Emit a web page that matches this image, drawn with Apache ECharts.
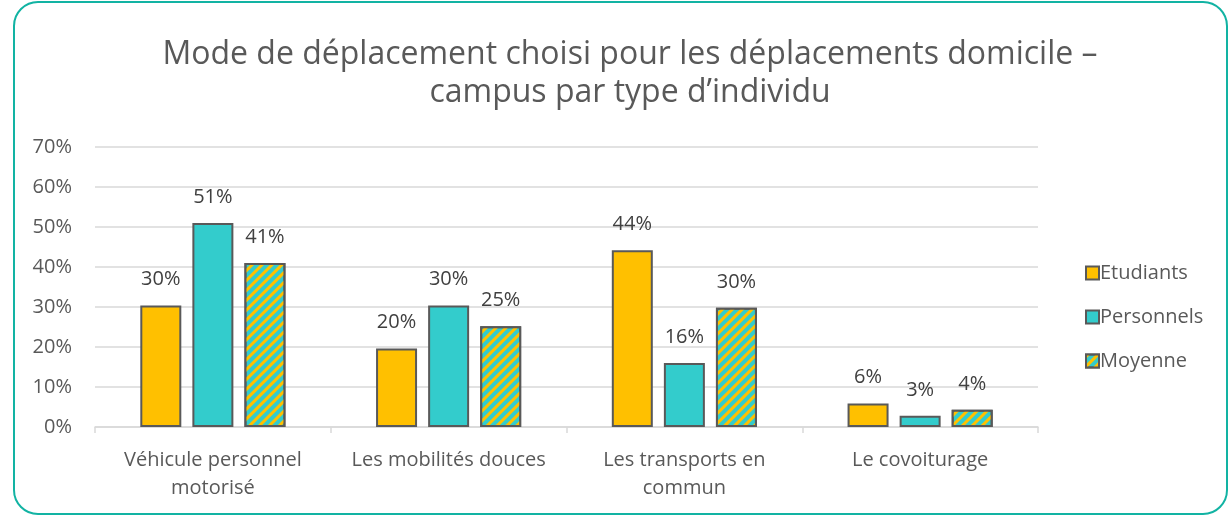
<!DOCTYPE html>
<html>
<head>
<meta charset="utf-8">
<script src="https://cdn.jsdelivr.net/npm/echarts@6/dist/echarts.min.js"></script>
<style>
  html, body { margin: 0; padding: 0; background: #fff; }
  #chart { width: 1229px; height: 516px; }
</style>
</head>
<body>
<div id="chart"></div>
<script>
// données (en %)
const categories = ["Véhicule personnel\nmotorisé", "Les mobilités douces", "Les transports en\ncommun", "Le covoiturage"];
const etudiants = [30.4, 19.6, 44.2, 5.9];
const personnels = [51.0, 30.4, 16.0, 2.8];
const moyenne = [41.0, 25.2, 29.8, 4.3];
const yTicks = [0, 10, 20, 30, 40, 50, 60, 70];

const font = "'Open Sans', 'Noto Sans', sans-serif";
const textColor = "#595959";

let myChart = echarts.init(document.getElementById("chart"));

function barLabel() {
  return {
    show: true,
    position: "top",
    distance: 16,
    color: "#404040",
    fontFamily: font,
    fontSize: 20,
    formatter: function (p) {
      return Math.round(p.value) + "%";
    }
  };
}

let option = {
  animation: false,
  graphic: [
    {
      type: "rect",
      shape: { x: 14, y: 2, width: 1213, height: 512, r: 24 },
      style: { fill: "none", stroke: "#12B3A3", lineWidth: 2 },
      z: 0
    }
  ],
  title: {
    text: "Mode de déplacement choisi pour les déplacements domicile –\ncampus par type d’individu",
    left: 625,
    top: 31,
    textAlign: "center",
    textStyle: {
      fontFamily: font,
      fontSize: 32,
      fontWeight: "normal",
      color: textColor,
      lineHeight: 38
    }
  },
  legend: {
    orient: "vertical",
    left: 1080,
    top: 258,
    itemGap: 24,
    itemWidth: 13,
    itemHeight: 13,
    icon: "rect",
    textStyle: { fontFamily: font, fontSize: 20, color: textColor, padding: [0, 0, 0, -4] },
    data: ["Etudiants", "Personnels", "Moyenne"]
  },
  grid: {
    left: 95,
    right: 191,
    top: 147,
    bottom: 89
  },
  xAxis: {
    type: "category",
    data: categories,
    axisLine: { show: true, lineStyle: { color: "#D9D9D9", width: 1.5 } },
    axisTick: { show: true, length: 6, lineStyle: { color: "#D9D9D9", width: 1.5 } },
    axisLabel: {
      interval: 0,
      color: textColor,
      fontFamily: font,
      fontSize: 20,
      lineHeight: 28,
      margin: 19
    }
  },
  yAxis: {
    type: "value",
    min: 0,
    max: 70,
    interval: 10,
    axisLine: { show: false },
    axisTick: { show: false },
    splitLine: { lineStyle: { color: "#D9D9D9", width: 1.5 } },
    axisLabel: {
      color: textColor,
      fontFamily: font,
      fontSize: 20,
      margin: 23,
      formatter: function (v) {
        return yTicks.indexOf(v) >= 0 ? v + "%" : "";
      }
    }
  },
  series: [
    {
      name: "Etudiants",
      type: "bar",
      barWidth: 41,
      barGap: "27%",
      itemStyle: { color: "#FFC000", borderColor: "#595959", borderWidth: 2 },
      label: barLabel(),
      data: etudiants
    },
    {
      name: "Personnels",
      type: "bar",
      barWidth: 41,
      barGap: "27%",
      itemStyle: { color: "#33CCCC", borderColor: "#595959", borderWidth: 2 },
      label: barLabel(),
      data: personnels
    },
    {
      name: "Moyenne",
      type: "bar",
      barWidth: 41,
      barGap: "27%",
      itemStyle: {
        color: "#33CCCC",
        borderColor: "#595959",
        borderWidth: 2,
        decal: {
          symbol: "rect",
          symbolSize: 1,
          color: "#FFC000",
          dashArrayX: [1, 0],
          dashArrayY: [3, 4],
          rotation: -Math.PI / 4
        }
      },
      label: barLabel(),
      data: moyenne
    }
  ]
};

myChart.setOption(option);
</script>
</body>
</html>
